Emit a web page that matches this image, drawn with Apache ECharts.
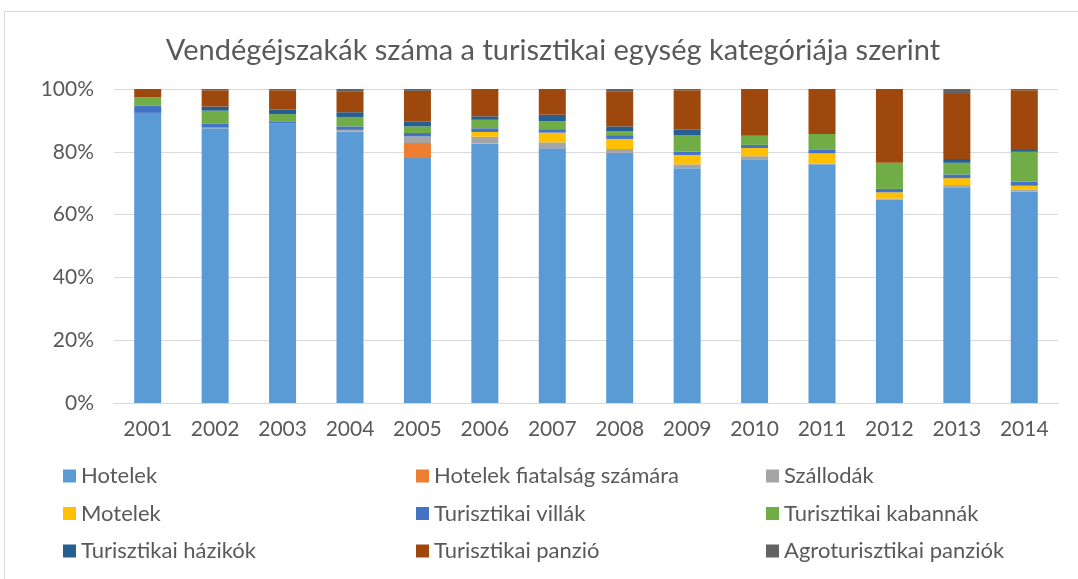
<!DOCTYPE html>
<html>
<head>
    <meta charset="utf-8">
    <title>Vendégéjszakák</title>
    <script src="https://cdn.jsdelivr.net/npm/echarts@6/dist/echarts.min.js"></script>
    <style>
        html, body { margin: 0; padding: 0; background: #fff; }
        #chart { width: 1078px; height: 579px; }
    </style>
</head>
<body>
<div id="chart"></div>
<script type="text/javascript">
    var years = ['2001','2002','2003','2004','2005','2006','2007','2008','2009','2010','2011','2012','2013','2014'];
    var yTicks = [0, 20, 40, 60, 80, 100];

    // shares in %
    var hotelek   = [92.4, 87.5, 89.0, 86.5, 78.0, 82.6, 81.1, 79.7, 74.8, 77.6, 76.0, 64.8, 68.5, 67.3];
    var fiatalsag = [0, 0, 0, 0, 4.8, 0, 0, 0, 0, 0, 0, 0, 0, 0];
    var szallodak = [0, 0.2, 0, 0.5, 2.1, 2.2, 1.9, 1.2, 1.2, 1.0, 0.3, 0.3, 0.9, 0.7];
    var motelek   = [0, 0, 0, 0, 0, 1.5, 3.1, 3.2, 3.0, 2.6, 3.2, 2.0, 2.2, 1.2];
    var villak    = [2.3, 1.2, 0.7, 1.1, 1.1, 1.2, 1.1, 1.2, 1.1, 1.0, 1.3, 1.1, 1.2, 1.3];
    var kabannak  = [2.7, 4.2, 2.3, 3.0, 2.1, 2.7, 2.5, 1.2, 5.1, 2.9, 4.9, 8.3, 3.7, 9.5];
    var hazikok   = [0, 1.3, 1.4, 1.5, 1.6, 1.1, 2.1, 1.6, 1.8, 0, 0, 0, 1.2, 0.6];
    var panzio    = [2.6, 5.2, 6.2, 6.7, 9.7, 8.7, 8.2, 11.2, 12.6, 14.9, 14.3, 23.5, 20.7, 19.0];
    var agro      = [0, 0.4, 0.4, 0.7, 0.6, 0, 0, 0.7, 0.4, 0, 0, 0, 1.6, 0.4];

    var names = ['Hotelek', 'Hotelek fiatalság számára', 'Szállodák', 'Motelek', 'Turisztikai villák',
                 'Turisztikai kabannák', 'Turisztikai házikók', 'Turisztikai panzió', 'Agroturisztikai panziók'];
    var colors = ['#5B9BD5', '#ED7D31', '#A5A5A5', '#FFC000', '#4472C4', '#70AD47', '#255E91', '#9E480E', '#636363'];
    var values = [hotelek, fiatalsag, szallodak, motelek, villak, kabannak, hazikok, panzio, agro];

    var font = 'Lato';
    var txt = '#595959';

    var myChart = echarts.init(document.getElementById('chart'));

    var series = names.map(function (n, i) {
        return {
            name: n,
            type: 'bar',
            stack: 'total',
            barWidth: 27,
            itemStyle: { color: colors[i] },
            emphasis: { disabled: true },
            data: values[i]
        };
    });

    function legendCol(left, items) {
        return {
            orient: 'vertical',
            left: left,
            top: 465,
            padding: 0,
            itemWidth: 13,
            itemHeight: 13,
            itemGap: 15.5,
            icon: 'rect',
            selectedMode: false,
            textStyle: { fontFamily: font, fontSize: 22, color: txt, lineHeight: 22 },
            data: items
        };
    }

    var option = {
        animation: false,
        color: colors,
        title: {
            text: 'Vendégéjszakák száma a turisztikai egység kategóriája szerint',
            left: 548,
            top: 31,
            textAlign: 'center',
            textStyle: { fontFamily: font, fontSize: 29, fontWeight: 'normal', color: txt }
        },
        graphic: [{
            type: 'rect',
            shape: { x: 4.5, y: 11.5, width: 1080, height: 580 },
            style: { fill: 'none', stroke: '#d9d9d9', lineWidth: 1 },
            silent: true
        }],
        legend: [
            legendCol(63, [names[0], names[3], names[6]]),
            legendCol(416, [names[1], names[4], names[7]]),
            legendCol(766, [names[2], names[5], names[8]])
        ],
        grid: { left: 114, right: 20, top: 89, bottom: 176 },
        xAxis: {
            type: 'category',
            data: years,
            axisLine: { lineStyle: { color: '#d9d9d9', width: 1 } },
            axisTick: { show: false },
            axisLabel: { fontFamily: font, fontSize: 21, color: txt, margin: 16 }
        },
        yAxis: {
            type: 'value',
            min: yTicks[0],
            max: yTicks[yTicks.length - 1],
            interval: 20,
            axisLine: { show: false },
            axisTick: { show: false },
            splitLine: { lineStyle: { color: '#d9d9d9', width: 1 } },
            axisLabel: { fontFamily: font, fontSize: 21, color: txt, margin: 20, formatter: '{value}%' }
        },
        series: series
    };

    myChart.setOption(option);
</script>
</body>
</html>
